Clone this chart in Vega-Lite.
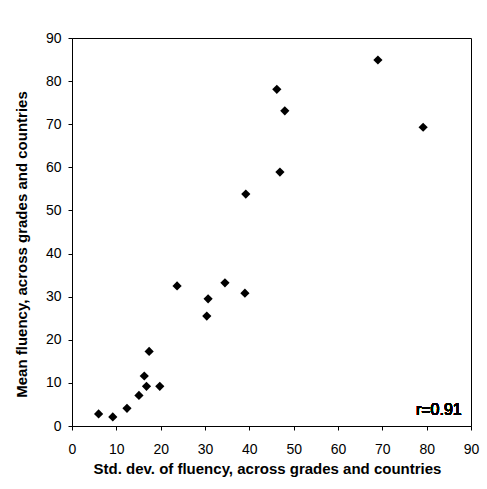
{
  "$schema": "https://vega.github.io/schema/vega-lite/v6.json",
  "width": 399,
  "height": 388,
  "autosize": {"type": "none"},
  "padding": {"left": 72, "top": 38, "right": 16, "bottom": 63},
  "background": "white",
  "config": {
    "font": "Liberation Sans",
    "view": {"stroke": "black", "strokeWidth": 1},
    "axis": {
      "grid": false,
      "domainColor": "black",
      "tickColor": "black",
      "tickSize": 4,
      "labelColor": "black",
      "labelFont": "Liberation Sans",
      "labelFontSize": 14,
      "titleColor": "black",
      "titleFont": "Liberation Sans",
      "titleFontSize": 15,
      "titleFontWeight": "bold"
    }
  },
  "data": {
    "values": [
      {"sd": 46.2, "mean": 78.1},
      {"sd": 48.0, "mean": 73.1},
      {"sd": 69.0, "mean": 84.9},
      {"sd": 79.2, "mean": 69.3},
      {"sd": 46.9, "mean": 58.9},
      {"sd": 39.2, "mean": 53.8},
      {"sd": 23.7, "mean": 32.5},
      {"sd": 30.7, "mean": 29.5},
      {"sd": 34.5, "mean": 33.2},
      {"sd": 39.0, "mean": 30.8},
      {"sd": 30.4, "mean": 25.5},
      {"sd": 17.4, "mean": 17.3},
      {"sd": 16.3, "mean": 11.6},
      {"sd": 16.8, "mean": 9.2},
      {"sd": 19.8, "mean": 9.2},
      {"sd": 15.1, "mean": 7.1},
      {"sd": 12.4, "mean": 4.1},
      {"sd": 6.0, "mean": 2.8},
      {"sd": 9.2, "mean": 2.1}
    ]
  },
  "layer": [
    {
      "mark": {"type": "point", "shape": "diamond", "filled": true, "color": "black", "size": 85, "opacity": 1},
      "encoding": {
        "x": {
          "field": "sd", "type": "quantitative",
          "scale": {"domain": [0, 90], "nice": false},
          "axis": {
            "values": [0, 10, 20, 30, 40, 50, 60, 70, 80, 90],
            "title": "Std. dev. of fluency, across grades and countries",
            "labelPadding": 12,
            "titleX": 195,
            "titleY": 47,
            "titleBaseline": "alphabetic",
            "titleAnchor": "middle",
            "labelFlush": false,
            "labelOverlap": false
          }
        },
        "y": {
          "field": "mean", "type": "quantitative",
          "scale": {"domain": [0, 90], "nice": false},
          "axis": {
            "values": [0, 10, 20, 30, 40, 50, 60, 70, 80, 90],
            "title": "Mean fluency, across grades and countries",
            "labelPadding": 7,
            "titleX": -51,
            "titleY": 206,
            "titleBaseline": "middle",
            "titleAngle": -90,
            "titleAnchor": "middle",
            "labelFlush": false,
            "labelOverlap": false
          }
        }
      }
    },
    {
      "mark": {"type": "text", "text": "r=0.91", "align": "right", "baseline": "alphabetic", "fontSize": 16, "fill": "black", "strokeWidth": 0, "font": "Liberation Sans"},
      "encoding": {
        "x": {"datum": 87.9, "type": "quantitative"},
        "y": {"datum": 2.5, "type": "quantitative"}
      }
    }
  ]
}
